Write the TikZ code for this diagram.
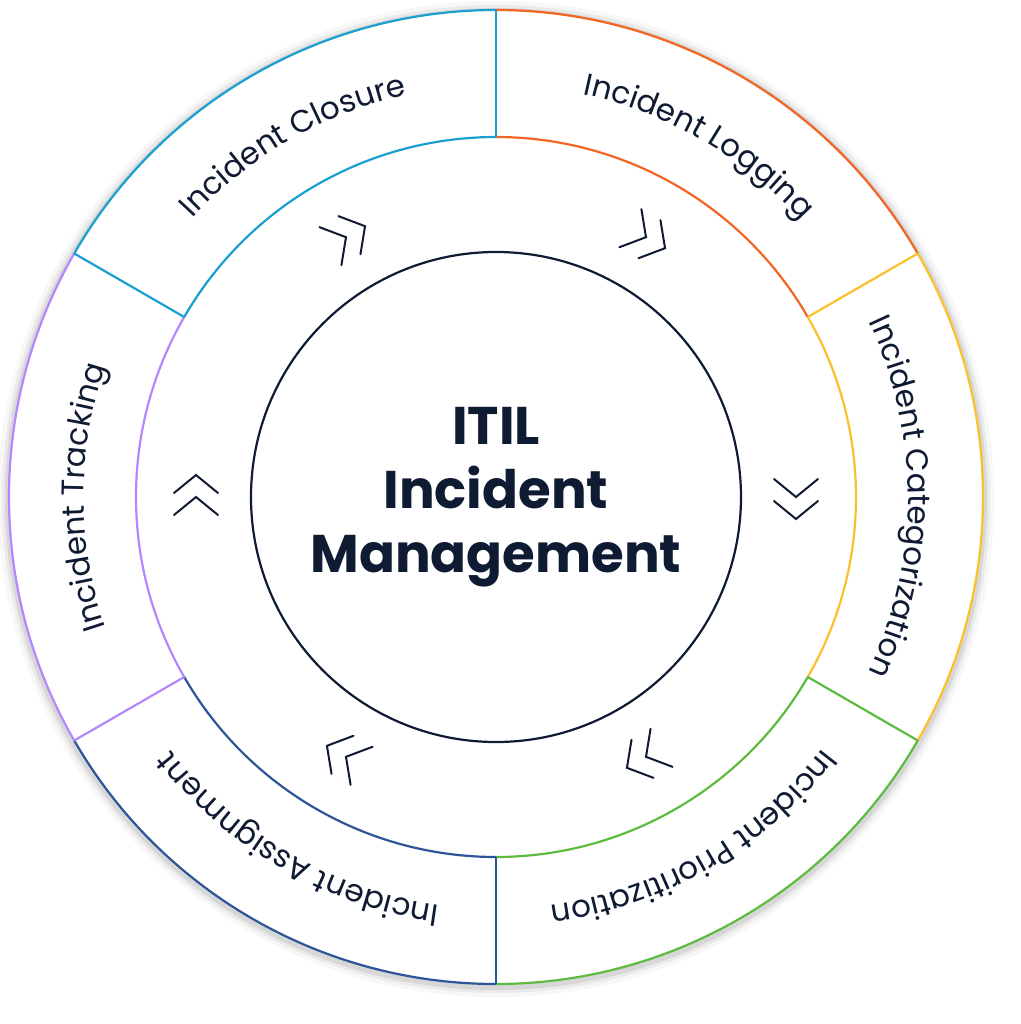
\documentclass[tikz,border=0pt]{standalone}
\usepackage{fontspec}
\newfontfamily\pop{Poppins}
\usetikzlibrary{decorations.text}
\definecolor{cLog}{HTML}{F26522}
\definecolor{cCat}{HTML}{FBC02D}
\definecolor{cPri}{HTML}{5DBB3F}
\definecolor{cAss}{HTML}{2E5597}
\definecolor{cTra}{HTML}{B388FF}
\definecolor{cClo}{HTML}{1A9FD0}
\definecolor{navy}{HTML}{0F1B33}
\tikzset{
 ring/.style={line width=1.1pt},
 chev/.style={navy,line width=1pt,line cap=round,line join=miter},
}
\newcommand{\seg}[3]{% start angle, color, label
 \draw[ring,#2] (#1:243.5pt) arc[start angle=#1,end angle=#1-60,radius=243.5pt];
 \draw[ring,#2] (#1:180pt) arc[start angle=#1,end angle=#1-60,radius=180pt];
 \draw[ring,#2] (#1:180pt) -- (#1:243.5pt);
 \path[decorate,decoration={text along path,text align=center,
   text={|\pop\fontsize{15.5pt}{18pt}\selectfont\color{navy}|#3}}]
   (#1:206pt) arc[start angle=#1,end angle=#1-60,radius=206pt];
}
\newcommand{\chevs}[1]{%
 \begin{scope}[shift={(#1:150pt)},rotate=#1-90]
  \draw[chev] (-9pt,11pt) -- (0pt,0pt) -- (-9pt,-11pt);
  \draw[chev] (2pt,11pt) -- (11pt,0pt) -- (2pt,-11pt);
 \end{scope}}
\begin{document}
\begin{tikzpicture}
\useasboundingbox (-248pt,-263.5pt) rectangle (262.5pt,248.5pt);
\fill[white] (-248pt,-263.5pt) rectangle (262.5pt,248.5pt);
\foreach \r/\o in {249/0.03,247/0.05,245.5/0.08}{\fill[black,opacity=\o] (0,-1pt) circle (\r pt);}
\fill[white] (0,0) circle (243.5pt);
\seg{90}{cLog}{Incident Logging}
\seg{30}{cCat}{Incident Categorization}
\seg{-30}{cPri}{Incident Prioritization}
\seg{-90}{cAss}{Incident Assignment}
\seg{-150}{cTra}{Incident Tracking}
\seg{150}{cClo}{Incident Closure}
\draw[ring,cClo] (90:180pt) -- (90:243.5pt);
\draw[ring,navy] (0,0) circle (122.5pt);
\node[align=center,text=navy,font=\pop\bfseries\fontsize{26.5pt}{32pt}\selectfont] (title) at (0,0pt) {ITIL\\Incident\\Management};
\foreach \a in {120,60,0,-60,-120,180}{\chevs{\a}}
\end{tikzpicture}
\end{document}
